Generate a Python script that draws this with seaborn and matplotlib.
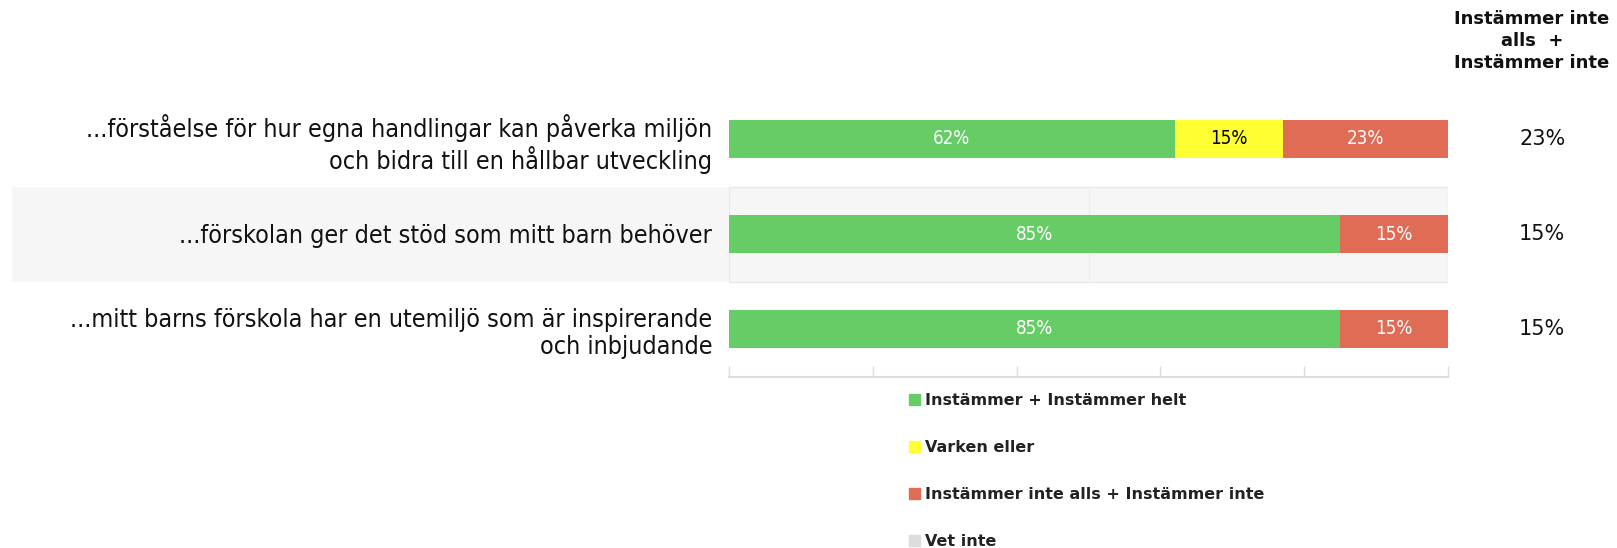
import seaborn as sns
import matplotlib.pyplot as plt
import matplotlib.patches as mpatches
import numpy as np
import pandas as pd

statements = [
    '...förståelse för hur egna handlingar kan påverka miljön\noch bidra till en hållbar utveckling',
    '...förskolan ger det stöd som mitt barn behöver',
    '...mitt barns förskola har en utemiljö som är inspirerande\noch inbjudande',
]
agree = [62, 85, 85]
neither = [15, 0, 0]
disagree = [23, 15, 15]
dont_know = [0, 0, 0]

series_names = ['Instämmer + Instämmer helt', 'Varken eller',
                'Instämmer inte alls + Instämmer inte', 'Vet inte']
series_values = [agree, neither, disagree, dont_know]
colors = ['#66cc66', '#ffff33', '#e06c55', '#dddddd']
label_colors = ['white', 'black', 'white', 'black']

right_header = 'Instämmer inte\nalls  +\nInstämmer inte'

sns.set_style('white')
plt.rcParams['font.family'] = ['DejaVu Sans']

fig = plt.figure(figsize=(16.17, 5.48), dpi=100)
ax = fig.add_axes([729 / 1617, 1 - 376.5 / 548, 719 / 1617, 285 / 548])

# shaded band behind the middle row
ax.axhspan(0.5, 1.5, xmin=-0.997, xmax=1, color='#f6f6f6', zorder=0, clip_on=False, lw=0)
ax.plot([0, 100, 100, 0, 0], [0.5, 0.5, 1.5, 1.5, 0.5], color='#e8e8e8', lw=1, zorder=0.5)
ax.plot([50, 50], [0.5, 1.5], color='#eeeeee', lw=1, zorder=0.5)

# stacked bars: draw cumulative totals from the back to the front
vals = np.array(series_values, dtype=float)
cum = np.cumsum(vals, axis=0)
for i in range(len(series_names) - 1, -1, -1):
    df = pd.DataFrame({'statement': statements, 'value': cum[i]})
    sns.barplot(data=df, x='value', y='statement', orient='h', color=colors[i],
                width=0.4, linewidth=0, saturation=1, ax=ax, zorder=2)

for i in range(len(series_names)):
    for j in range(len(statements)):
        v = vals[i, j]
        if v > 0:
            ax.text(cum[i, j] - v / 2, j, f'{int(v)}%', ha='center', va='center',
                    color=label_colors[i], fontsize=13.5, fontstretch='condensed', zorder=3)

ax.set_xlim(0, 100)
ax.set_ylim(2.5, -0.5)
ax.set_xlabel('')
ax.set_ylabel('')
ax.set_xticks([0, 20, 40, 60, 80, 100])
ax.set_xticklabels([])
ax.tick_params(axis='x', bottom=True, direction='in', length=8, color='#dddddd', width=1)
ax.tick_params(axis='y', length=0, pad=12, labelsize=18)
for lab in ax.get_yticklabels():
    lab.set_fontstretch('condensed')
    lab.set_color('#111111')
    lab.set_linespacing(1.2)
for s in ['top', 'right', 'left']:
    ax.spines[s].set_visible(False)
ax.spines['bottom'].set_color('#dddddd')
ax.spines['bottom'].set_linewidth(1.5)

# right-hand summary column
fig.text(1532 / 1617, 1 - 10 / 548, right_header, ha='center', va='top',
         fontsize=13, fontweight='bold', linespacing=1.3, color='#111111')
for j, v in enumerate(disagree):
    ax.text(1.131, j, f'{v}%', transform=ax.get_yaxis_transform(), ha='center',
            va='center', fontsize=15, color='#111111')

handles = [mpatches.Patch(color=c, label=n) for c, n in zip(colors, series_names)]
leg = fig.legend(handles=handles, loc='upper left', bbox_to_anchor=(909 / 1617, 1 - 393 / 548),
                 frameon=False, ncol=1, borderpad=0, borderaxespad=0, handlelength=0.7,
                 handleheight=0.7, handletextpad=0.3, labelspacing=2.0,
                 prop={'size': 11.5, 'weight': 'bold'})
for t in leg.get_texts():
    t.set_color('#222222')

fig.savefig('out.png', dpi=100)
